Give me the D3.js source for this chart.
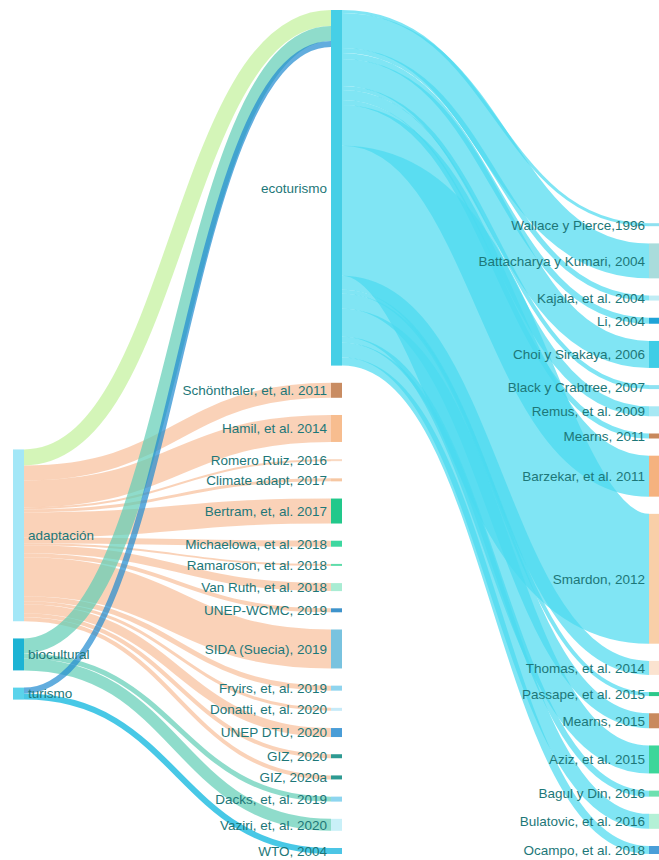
<!DOCTYPE html>
<html><head><meta charset="utf-8">
<script src="https://cdn.jsdelivr.net/npm/d3@7"></script>
<style>
body{margin:0;background:#fff}
svg{display:block}
text{font-family:"Liberation Sans",Arial,Helvetica,sans-serif}
</style>
</head><body><svg id="chart" width="659" height="860"></svg>
<script>
// ---------- DATA ----------
const sourceNodes = ["adaptación", "biocultural", "turismo"];
const hubNode = "ecoturismo";
const hubInflow = [16, 15, 6];   // adaptación, biocultural, turismo -> ecoturismo

const middleRefs = ["Schönthaler, et, al. 2011", "Hamil, et al. 2014", "Romero Ruiz, 2016", "Climate adapt, 2017",
  "Bertram, et, al. 2017", "Michaelowa, et al. 2018", "Ramaroson, et al. 2018", "Van Ruth, et al. 2018",
  "UNEP-WCMC, 2019", "SIDA (Suecia), 2019", "Fryirs, et, al. 2019", "Donatti, et, al. 2020", "UNEP DTU, 2020",
  "GIZ, 2020", "GIZ, 2020a", "Dacks, et, al. 2019", "Vaziri, et, al. 2020", "WTO, 2004"];
const middleRefSource = ["adaptación", "adaptación", "adaptación", "adaptación", "adaptación", "adaptación",
  "adaptación", "adaptación", "adaptación", "adaptación", "adaptación", "adaptación", "adaptación",
  "adaptación", "adaptación", "biocultural", "biocultural", "turismo"];
const middleRefValues = [15, 27, 2, 3, 25, 6, 2, 8, 4, 39, 5, 3, 9, 4, 4, 5, 12, 6];

const rightRefs = ["Wallace y Pierce,1996", "Battacharya y Kumari, 2004", "Kajala, et al. 2004", "Li, 2004",
  "Choi y Sirakaya, 2006", "Black y Crabtree, 2007", "Remus, et al. 2009", "Mearns, 2011",
  "Barzekar, et al. 2011", "Smardon, 2012", "Thomas, et al. 2014", "Passape, et al. 2015", "Mearns, 2015",
  "Aziz, et al. 2015", "Bagul y Din, 2016", "Bulatovic, et al. 2016", "Ocampo, et al. 2018"];
const rightRefValues = [3, 35, 5, 6, 27, 4, 10, 5, 41, 130, 14, 4, 15, 28, 6, 15, 8];

// ---------- STYLES ----------
const nodeColors = {
  "adaptación": "#a3e7f7", "biocultural": "#1db3d4", "turismo": "#5ad3eb", "ecoturismo": "#46cfe6",
  "Schönthaler, et, al. 2011": "#c98c62", "Hamil, et al. 2014": "#f7bd8f", "Romero Ruiz, 2016": "#f9d9c2",
  "Climate adapt, 2017": "#f6c7a2", "Bertram, et, al. 2017": "#22c88b", "Michaelowa, et al. 2018": "#3ed7a0",
  "Ramaroson, et al. 2018": "#5fdcaa", "Van Ruth, et al. 2018": "#a9ecd3", "UNEP-WCMC, 2019": "#3e93cb",
  "SIDA (Suecia), 2019": "#79c3df", "Fryirs, et, al. 2019": "#8fd4ee", "Donatti, et, al. 2020": "#c6eaf8",
  "UNEP DTU, 2020": "#4a9dd7", "GIZ, 2020": "#2e9a92", "GIZ, 2020a": "#2e9a92", "Dacks, et, al. 2019": "#8dd5ef",
  "Vaziri, et, al. 2020": "#c9f0f8", "WTO, 2004": "#4cc5e5",
  "Wallace y Pierce,1996": "#8fe0f0", "Battacharya y Kumari, 2004": "#a9dcdc", "Kajala, et al. 2004": "#c0ecf4",
  "Li, 2004": "#1fa3d7", "Choi y Sirakaya, 2006": "#3fcde6", "Black y Crabtree, 2007": "#8ee2f2",
  "Remus, et al. 2009": "#a8e8f4", "Mearns, 2011": "#c8885c", "Barzekar, et al. 2011": "#f5b27f",
  "Smardon, 2012": "#f9cfa8", "Thomas, et al. 2014": "#fbe3d0", "Passape, et al. 2015": "#2cc88a",
  "Mearns, 2015": "#c98a5e", "Aziz, et al. 2015": "#3dd69a", "Bagul y Din, 2016": "#6ee0b0",
  "Bulatovic, et al. 2016": "#b4f0d6", "Ocampo, et al. 2018": "#4a9ed8"
};
const hubLinkColors = {"adaptación": "#c2f19a", "biocultural": "#5fcdb5", "turismo": "#1f8ad0"};
const refLinkColors = {"adaptación": "#f8bf9a", "biocultural": "#5fcdb5", "turismo": "#28bee2"};
const outLinkColor = "#4adaef";
const labelColor = "#1d7778";

// ---------- LAYOUT ----------
const W = 659, H = 860;
const nodeWidth = 11, nodePadding = 17.2;
const ext = {x0: 13, x1: 660, y0: 10, y1: 854};
const columnAlign = [0.74, 0, 1];

const nodes = [], byName = new Map(), links = [];
function addNode(name) {
  if (!byName.has(name)) {
    const n = {name, sourceLinks: [], targetLinks: [], index: nodes.length};
    nodes.push(n); byName.set(name, n);
  }
}
function addLink(s, t, v, color, op) {
  const l = {source: byName.get(s), target: byName.get(t), value: v, color, op};
  l.source.sourceLinks.push(l); l.target.targetLinks.push(l); links.push(l);
}
sourceNodes.forEach(addNode);
addNode(hubNode);
middleRefs.forEach(addNode);
rightRefs.forEach(addNode);
middleRefs.forEach((r, i) => addLink(middleRefSource[i], r, middleRefValues[i],
  refLinkColors[middleRefSource[i]], middleRefSource[i] === "turismo" ? 0.85 : 0.7));
sourceNodes.forEach((s, i) => addLink(s, hubNode, hubInflow[i], hubLinkColors[s], 0.7));
rightRefs.forEach((r, i) => addLink(hubNode, r, rightRefValues[i], outLinkColor, 0.7));

nodes.forEach(n => {
  n.value = Math.max(d3.sum(n.sourceLinks, l => l.value), d3.sum(n.targetLinks, l => l.value));
});
// depth (left aligned)
let current = nodes.filter(n => n.targetLinks.length === 0), depth = 0;
while (current.length) {
  const next = new Set();
  current.forEach(n => { n.depth = depth; n.sourceLinks.forEach(l => next.add(l.target)); });
  current = [...next]; depth++;
}
const nCols = d3.max(nodes, n => n.depth) + 1;
const columns = d3.range(nCols).map(i => nodes.filter(n => n.depth === i));
const ky = d3.min(columns, c => (ext.y1 - ext.y0 - (c.length - 1) * nodePadding) / d3.sum(c, n => n.value));
const thick = d3.scaleLinear().domain([0, 1]).range([0, ky]);
const xCol = d3.scaleLinear().domain([0, nCols - 1]).range([ext.x0, ext.x1 - nodeWidth]);

columns.forEach((col, i) => {
  const total = thick(d3.sum(col, n => n.value)) + (col.length - 1) * nodePadding;
  let y = ext.y0 + (ext.y1 - ext.y0 - total) * columnAlign[i];
  col.forEach(n => {
    n.x0 = xCol(i); n.x1 = n.x0 + nodeWidth;
    n.y0 = y; n.y1 = y + thick(n.value);
    y = n.y1 + nodePadding;
  });
});
nodes.forEach(n => {
  n.sourceLinks.sort((a, b) => a.target.y0 - b.target.y0);
  n.targetLinks.sort((a, b) => a.source.y0 - b.source.y0);
});
links.forEach(l => l.width = thick(l.value));
nodes.forEach(n => {
  let ys = n.y0, yt = n.y0;
  n.sourceLinks.forEach(l => { l.y0 = ys + l.width / 2; ys += l.width; });
  n.targetLinks.forEach(l => { l.y1 = yt + l.width / 2; yt += l.width; });
});

// ---------- DRAW ----------
const svg = d3.select("#chart");
svg.append("rect").attr("width", W).attr("height", H).attr("fill", "#fff");

const linkPath = d3.linkHorizontal()
  .source(l => [l.source.x1, l.y0])
  .target(l => [l.target.x0, l.y1]);

svg.append("g").attr("fill", "none")
  .selectAll("path").data(links).join("path")
  .attr("d", linkPath)
  .attr("stroke", l => l.color)
  .attr("stroke-opacity", l => l.op)
  .attr("stroke-width", l => Math.max(1, l.width));

svg.append("g").selectAll("rect").data(nodes).join("rect")
  .attr("x", n => n.x0).attr("y", n => n.y0)
  .attr("width", n => n.x1 - n.x0)
  .attr("height", n => Math.max(1.5, n.y1 - n.y0))
  .attr("fill", n => nodeColors[n.name]);

svg.append("g").selectAll("text").data(nodes).join("text")
  .attr("x", n => n.depth === 0 ? n.x1 + 4 : n.x0 - 4)
  .attr("y", n => (n.y0 + n.y1) / 2)
  .attr("dy", "0.36em")
  .attr("text-anchor", n => n.depth === 0 ? "start" : "end")
  .attr("font-size", 13.5)
  .attr("fill", labelColor)
  .text(n => n.name);
</script>
</body></html>
